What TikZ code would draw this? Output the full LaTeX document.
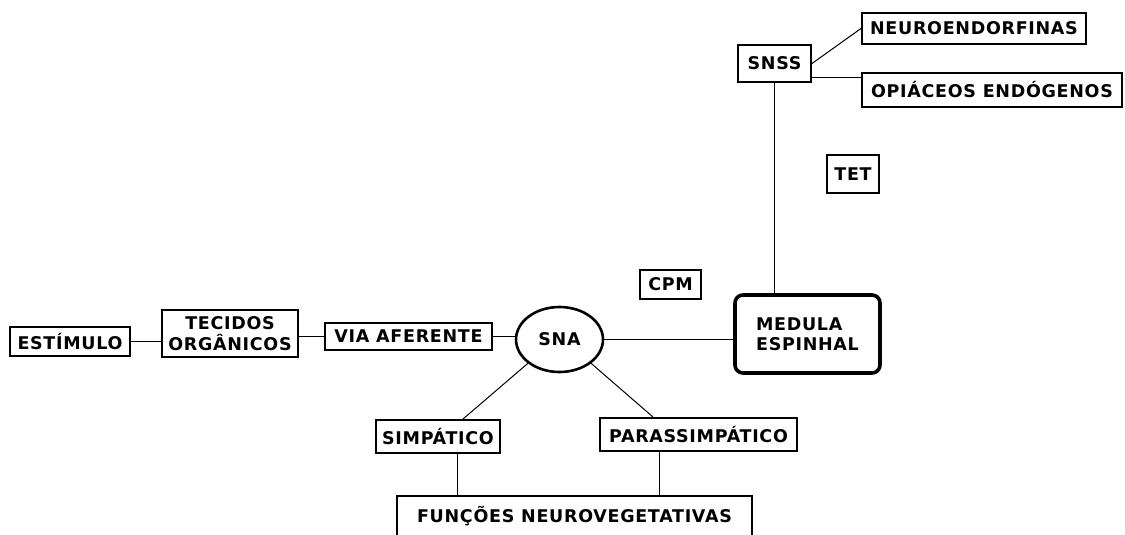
\documentclass[tikz,border=0pt]{standalone}
\usepackage{fontspec}
\setmainfont{DejaVu Sans}[LetterSpace=4]
\usetikzlibrary{shapes.geometric, calc}
\tikzset{
    box/.style = {draw, line width=2pt, inner sep=0pt, align=center,
        font=\bfseries\fontsize{17.5}{21}\selectfont},
    sna-oval/.style = {box, ellipse, line width=2.6pt, minimum width=87pt, minimum height=65pt},
    med-box/.style = {box, rounded corners=8pt, line width=3.6pt, align=left,
        font=\bfseries\fontsize{17.5}{20}\selectfont},
    size/.style 2 args = {minimum width=#1pt, minimum height=#2pt},
}

\begin{document}
\begin{tikzpicture}[x=1pt, y=-1pt, line width=1pt]
\clip (0,0) rectangle (1125,535);

% cadeia aferente
\node[box, size={120}{29}] (est) at (70,341.5) {ESTÍMULO};
\node[box, size={136}{47}] (tec) at (230,333.5) {TECIDOS\\ORGÂNICOS};
\node[box, size={167}{27}] (via) at (408.5,336.5) {VIA AFERENTE};
\node[sna-oval] (sna) at (559.5,339.5) {SNA};
\node[box, size={61}{29}] (cpm) at (670.5,284.5) {CPM};
\node[med-box, size={145}{78}] (med) at (807.5,334) {MEDULA\\ESPINHAL};

% ramo superior
\node[box, size={73}{37}] (snss) at (774.5,63.5) {SNSS};
\node[box, size={224}{31}] (neuro) at (974,28.5) {NEUROENDORFINAS};
\node[box, size={260}{34}] (opi) at (992,90) {OPIÁCEOS ENDÓGENOS};
\node[box, size={52}{38}] (tet) at (853,174) {TET};

% ramo inferior
\node[box, size={124}{33}] (simp) at (438,436.5) {SIMPÁTICO};
\node[box, size={197}{33}] (para) at (698.5,434.5) {PARASSIMPÁTICO};
\node[box, size={355}{40}] (func) at (574.5,516) {FUNÇÕES NEUROVEGETATIVAS};

\draw (est.east) -- (est.east -| tec.west);
\draw (via.west -| tec.east) -- (via.west);
\draw (via.east) -- (via.east -| sna.west);
\draw (sna.east) -- (sna.east -| med.west);
\draw (snss.south) -- (snss.south |- med.north);
\draw (snss.east) -- (neuro.west);
\coordinate (snss-o) at ([yshift=-14.5pt]snss.east);
\draw (snss-o) -- (snss-o -| opi.west);

\coordinate (simp-n) at ([xshift=25pt]simp.north);
\coordinate (para-n) at ([xshift=-45.5pt]para.north);
\draw (sna.south west) -- (simp-n);
\draw (sna.south east) -- (para-n);
\coordinate (simp-s) at ([xshift=19pt]simp.south);
\coordinate (para-s) at ([xshift=-39.5pt]para.south);
\draw (simp-s) -- (simp-s |- func.north);
\draw (para-s) -- (para-s |- func.north);
\end{tikzpicture}
\end{document}
